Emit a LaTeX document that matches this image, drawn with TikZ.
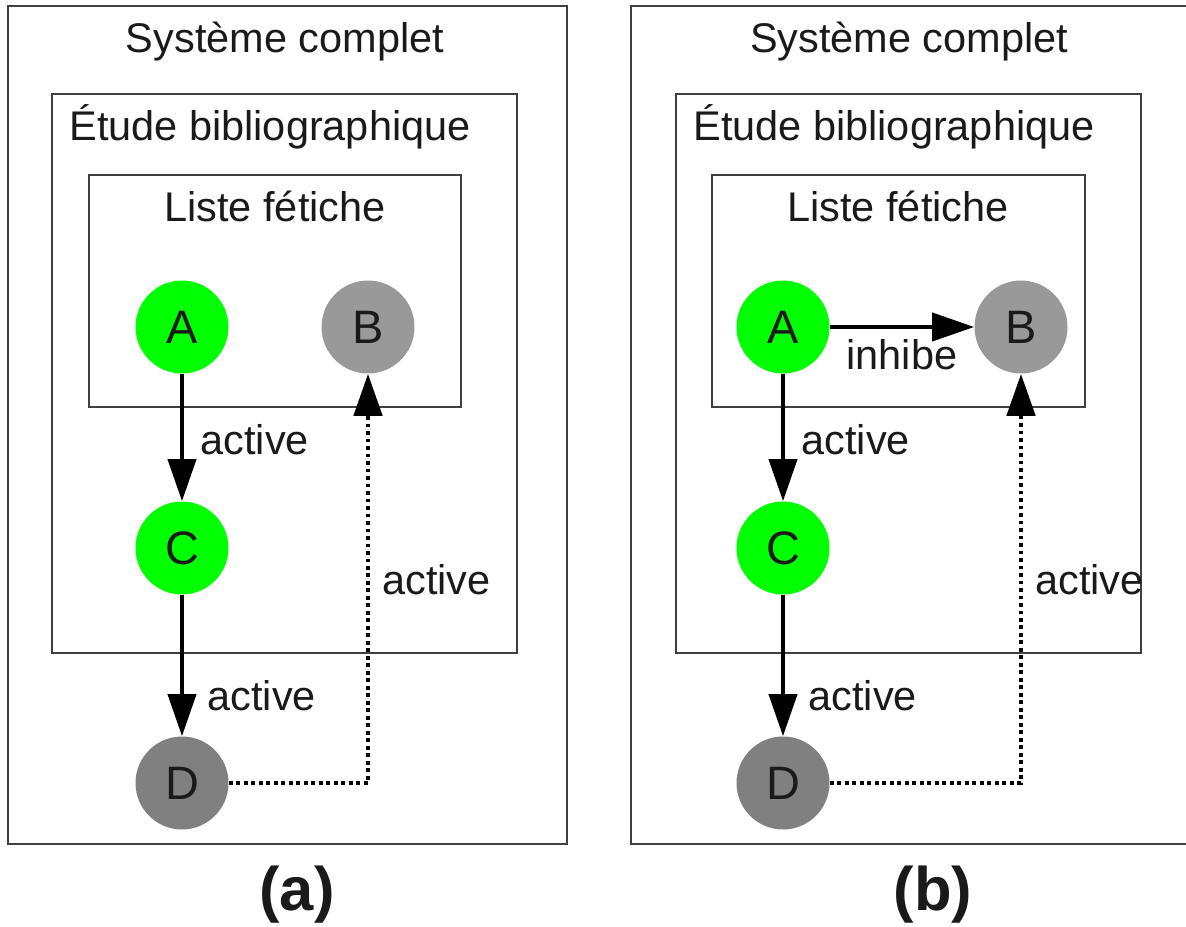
\documentclass[tikz,border=0pt]{standalone}
\usepackage{fontspec}
\setmainfont{Liberation Sans}
\usetikzlibrary{arrows.meta,positioning}
\definecolor{vif}{HTML}{00FF00}
\definecolor{grisclair}{HTML}{999999}
\definecolor{grisfonce}{HTML}{808080}
\definecolor{encre}{HTML}{1A1A1A}
\tikzset{
  texte/.style={text=encre,inner sep=0pt,font=\fontsize{23.6}{28}\selectfont},
  gene/.style={texte,circle,minimum size=1.86cm,font=\fontsize{26.7}{30}\selectfont},
  actif/.style={gene,fill=vif},
  eteint/.style={gene,fill=grisclair},
  cible/.style={gene,fill=grisfonce},
  cadre/.style={draw=black!75,line width=0.6pt},
  fleche/.style={line width=0.08cm,-{Triangle[length=0.84cm,width=0.56cm]}},
  pointille/.style={fleche,line width=0.095cm,dash pattern=on 0.075cm off 0.075cm},
  sous/.style={texte,font=\fontsize{35}{40}\selectfont\bfseries}
}
\begin{document}
\begin{tikzpicture}[x=0.02cm,y=-0.02cm]
\useasboundingbox (0,0) rectangle (1186,926);
\clip (0,0) rectangle (1186,926);
\draw[cadre] (8,6) rectangle (567,844);
\draw[cadre] (52,94) rectangle (517,653);
\draw[cadre] (89,175) rectangle (461,407);
\node[texte,anchor=base] (sys1) at (285,53) {Système complet};
\node[texte,anchor=base] (etu1) at (270,140) {Étude bibliographique};
\node[texte,anchor=base] (lis1) at (275,221) {Liste fétiche};
\node[actif] (A1) at (182,327) {A};
\node[eteint] (B1) at (368,327) {B};
\node[actif] (C1) at (182,548) {C};
\node[cible] (D1) at (182,783) {D};
\draw[fleche] (A1) -- node[texte,pos=0.52,right=0.33cm] (l1) {active} (C1);
\draw[fleche] (C1) -- node[texte,pos=0.71,right=0.47cm] (l2) {active} (D1);
\draw[pointille] (D1) -| node[texte,pos=0.748,right=0.24cm] (l3) {active} (B1);
\node[sous,anchor=base] (a) at (297,910) {(a)};
\draw[cadre] (631,6) rectangle (1190,844);
\draw[cadre] (676,94) rectangle (1141,653);
\draw[cadre] (712,175) rectangle (1085,407);
\node[texte,anchor=base] (sys2) at (909,53) {Système complet};
\node[texte,anchor=base] (etu2) at (894,140) {Étude bibliographique};
\node[texte,anchor=base] (lis2) at (898,221) {Liste fétiche};
\node[actif] (A2) at (783,327) {A};
\node[eteint] (B2) at (1021,327) {B};
\node[actif] (C2) at (783,548) {C};
\node[cible] (D2) at (783,783) {D};
\draw[fleche] (A2) -- node[texte,below=0.2cm] (l4) {inhibe} (B2);
\draw[fleche] (A2) -- node[texte,pos=0.52,right=0.33cm] (l5) {active} (C2);
\draw[fleche] (C2) -- node[texte,pos=0.71,right=0.47cm] (l6) {active} (D2);
\draw[pointille] (D2) -| node[texte,pos=0.748,right=0.24cm] (l7) {active} (B2);
\node[sous,anchor=base] (b) at (933,910) {(b)};
\end{tikzpicture}
\end{document}
